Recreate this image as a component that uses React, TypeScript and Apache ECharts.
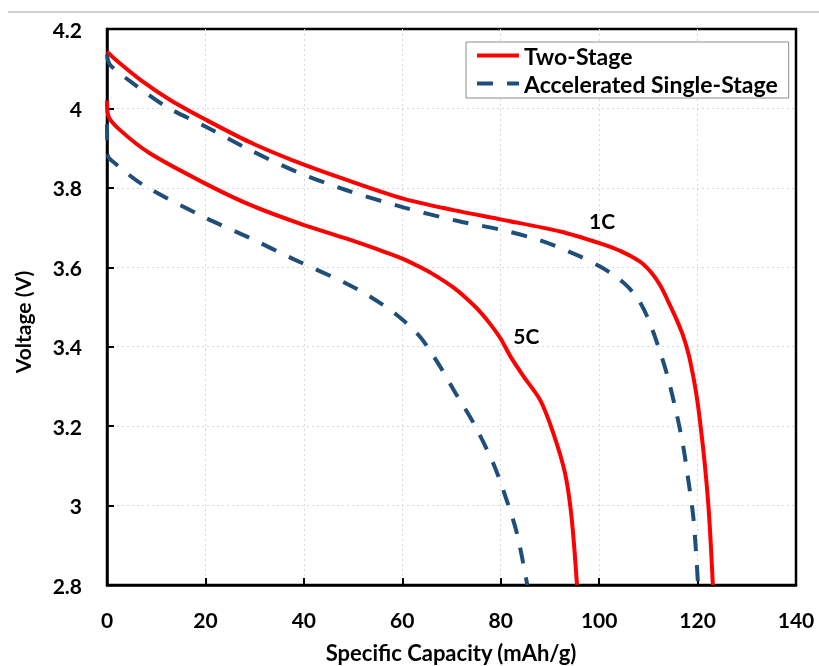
import { useEffect, useRef } from "react";
import * as echarts from "echarts";

// Two-Stage, 1C
const twoStage1C_x = [0, 2, 7, 13, 20, 29, 38, 48.7, 60.2, 70.4, 80.2, 92.1, 100.2, 104.5, 108.3, 110.5, 112.4, 114, 115.5, 117, 118.2, 119.2, 120, 120.8, 121.5, 122.2, 122.7, 123.1];
const twoStage1C_y = [4.143, 4.12, 4.07, 4.02, 3.972, 3.915, 3.868, 3.82, 3.773, 3.744, 3.72, 3.69, 3.66, 3.64, 3.614, 3.588, 3.555, 3.515, 3.475, 3.43, 3.38, 3.32, 3.26, 3.18, 3.1, 3.0, 2.9, 2.8];

// Accelerated Single-Stage, 1C
const accel1C_x = [0, 0.6, 5.3, 12.1, 20.1, 29.1, 38.6, 48.7, 60.2, 71.1, 80.2, 88, 96, 100, 103, 105.5, 107.7, 109.7, 111.7, 113.8, 115.8, 117.1, 118.1, 119.2, 120.1];
const accel1C_y = [4.135, 4.11, 4.063, 4.004, 3.954, 3.895, 3.84, 3.794, 3.751, 3.717, 3.694, 3.668, 3.628, 3.603, 3.58, 3.555, 3.524, 3.478, 3.412, 3.33, 3.228, 3.148, 3.066, 2.963, 2.8];

// Two-Stage, 5C
const twoStage5C_x = [0, 0.3, 2.6, 8.7, 20.1, 29.1, 39.2, 48.7, 55, 60, 64, 67, 70.5, 73, 75.5, 78, 80, 82, 84.6, 88, 90.7, 93.1, 94.4, 95.5];
const twoStage5C_y = [4.02, 3.98, 3.946, 3.887, 3.81, 3.757, 3.71, 3.672, 3.645, 3.622, 3.598, 3.577, 3.548, 3.522, 3.492, 3.455, 3.42, 3.375, 3.326, 3.266, 3.182, 3.08, 2.97, 2.8];

// Accelerated Single-Stage, 5C
const accel5C_x = [0, 0.2, 1.3, 7.4, 20.1, 29, 38, 48, 53.5, 58.9, 63.6, 67.7, 70.5, 74.5, 78.5, 81.2, 83.3, 85.4];
const accel5C_y = [3.96, 3.88, 3.865, 3.807, 3.724, 3.674, 3.62, 3.563, 3.526, 3.48, 3.425, 3.35, 3.29, 3.207, 3.106, 3.014, 2.93, 2.8];

const seriesNames = ["Two-Stage", "Accelerated Single-Stage"];
const rateLabels = ["1C", "5C"];
const rateLabelX = [100.6, 85.2];
const rateLabelY = [3.719, 3.427];

const xTicks = [0, 20, 40, 60, 80, 100, 120, 140];
const yTicks = [2.8, 3, 3.2, 3.4, 3.6, 3.8, 4, 4.2];

const RED = "#FF0000";
const BLUE = "#1F4E79";
const FONT = "Lato";

const zip = (xs: number[], ys: number[]) => xs.map((x, i) => [x, ys[i]]);

export default function App() {
  const ref = useRef<HTMLDivElement>(null);
  useEffect(() => {
    const chart = echarts.init(ref.current!, null, { renderer: "svg" });
    const lineBase = {
      type: "line" as const,
      symbol: "none",
      showSymbol: false,
      smooth: 0.3,
      z: 3,
    };
    const split = { show: true, showMinLine: false, showMaxLine: false, lineStyle: { color: "#d9d9d9", width: 1, type: [2, 3] } };
    const option = {
      animation: false,
      textStyle: { fontFamily: FONT },
      grid: {
        left: 107,
        top: 29,
        right: 23,
        bottom: 81,
        show: true,
        borderColor: "#000",
        borderWidth: 2.5,
        backgroundColor: "transparent",
      },
      legend: {
        data: seriesNames,
        orient: "vertical",
        left: 466,
        top: 42,
        padding: [2, 11, 3, 9],
        itemGap: 5,
        itemWidth: 42,
        itemHeight: 14,
        itemStyle: { opacity: 0 },
        lineStyle: { width: 4 },
        borderColor: "#8c8c8c",
        borderWidth: 1,
        backgroundColor: "#fff",
        textStyle: { fontFamily: FONT, fontWeight: "bold", fontSize: 23, color: "#000" },
      },
      xAxis: {
        type: "value",
        min: xTicks[0],
        max: xTicks[xTicks.length - 1],
        interval: 20,
        axisLine: { show: true, lineStyle: { color: "#000", width: 2.5 } },
        axisTick: { show: true, inside: true, length: 7, lineStyle: { color: "#000", width: 2 } },
        axisLabel: { margin: 24, fontFamily: FONT, fontWeight: "bold", fontSize: 21, color: "#000" },
        splitLine: split,
      },
      yAxis: {
        type: "value",
        min: yTicks[0],
        max: yTicks[yTicks.length - 1],
        interval: 0.2,
        axisLine: { show: true, lineStyle: { color: "#000", width: 2.5 } },
        axisTick: { show: true, inside: true, length: 7, lineStyle: { color: "#000", width: 2 } },
        axisLabel: {
          margin: 25,
          fontFamily: FONT,
          fontWeight: "bold",
          fontSize: 21,
          color: "#000",
          formatter: (v: number) => String(Number(v.toFixed(1))),
        },
        splitLine: split,
      },
      series: [
        { ...lineBase, name: seriesNames[0], data: zip(twoStage1C_x, twoStage1C_y), lineStyle: { color: RED, width: 4 }, itemStyle: { color: RED } },
        { ...lineBase, name: seriesNames[0], data: zip(twoStage5C_x, twoStage5C_y), lineStyle: { color: RED, width: 4 }, itemStyle: { color: RED } },
        { ...lineBase, name: seriesNames[1], data: zip(accel1C_x, accel1C_y), lineStyle: { color: BLUE, width: 4, type: [16, 14] }, itemStyle: { color: BLUE } },
        { ...lineBase, name: seriesNames[1], data: zip(accel5C_x, accel5C_y), lineStyle: { color: BLUE, width: 4, type: [16, 14] }, itemStyle: { color: BLUE } },
        {
          type: "scatter",
          name: "rate",
          symbolSize: 0,
          itemStyle: { opacity: 1 },
          data: rateLabels.map((t, i) => ({ value: [rateLabelX[i], rateLabelY[i]], name: t })),
          label: {
            show: true,
            position: "inside",
            formatter: (p: any) => p.name,
            fontFamily: FONT,
            fontWeight: "bold",
            fontSize: 21,
            color: "#000",
            textBorderWidth: 0,
          },
          z: 4,
        },
      ],
      graphic: [
        {
          type: "line",
          shape: { x1: 8, y1: 12, x2: 819, y2: 12 },
          style: { stroke: "#d0d0d0", lineWidth: 2 },
        },
        {
          type: "text",
          x: 451,
          y: 652,
          style: {
            text: "Specific Capacity (mAh/g)",
            font: `bold 22px ${FONT}`,
            fill: "#000",
            align: "center",
            verticalAlign: "middle",
          },
        },
        {
          type: "text",
          x: 22,
          y: 322,
          rotation: Math.PI / 2,
          style: {
            text: "Voltage (V)",
            font: `bold 21px ${FONT}`,
            fill: "#000",
            align: "center",
            verticalAlign: "middle",
          },
        },
      ],
    };
    chart.setOption(option as any);
    return () => chart.dispose();
  }, []);
  return <div ref={ref} style={{ position: "fixed", left: 0, top: 0, width: 819, height: 666 }} />;
}
